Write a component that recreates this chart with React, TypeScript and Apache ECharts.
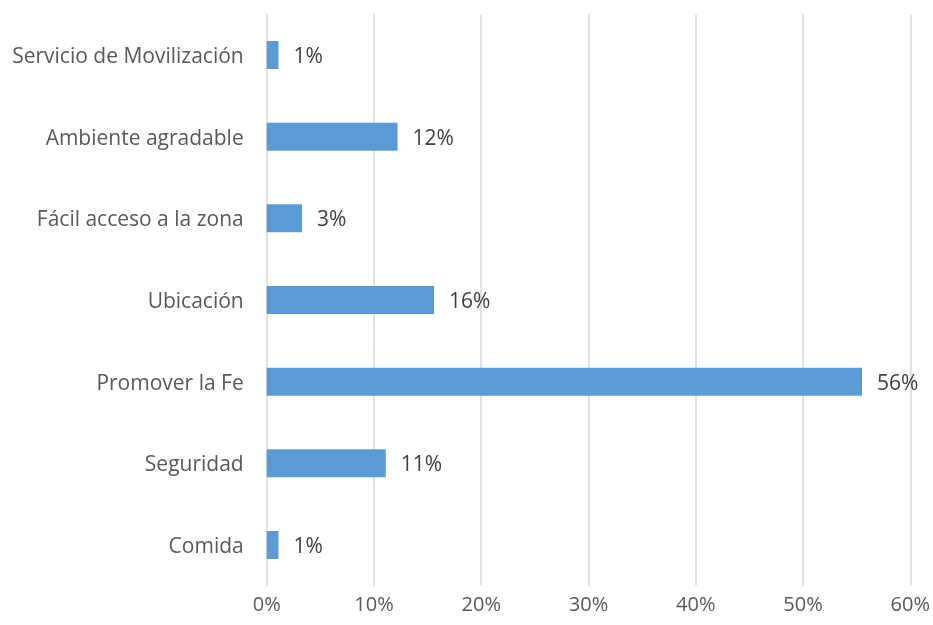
import React, { useEffect, useRef } from "react";
import * as echarts from "echarts";

const categories = [
  "Comida",
  "Seguridad",
  "Promover la Fe",
  "Ubicación",
  "Fácil acceso a la zona",
  "Ambiente agradable",
  "Servicio de Movilización",
];
const values = [1.1, 11.1, 55.5, 15.6, 3.3, 12.2, 1.1];
const xTicks = [0, 10, 20, 30, 40, 50, 60];

const FONT = "Open Sans";
const FS = 21;

export default function App() {
  const ref = useRef<HTMLDivElement>(null);
  useEffect(() => {
    if (!ref.current) return;
    const chart = echarts.init(ref.current, undefined, { renderer: "svg" });
    chart.setOption({
      animation: false,
      grid: { left: 266.7, right: 22.5, top: 14.2, bottom: 39.2, containLabel: false },
      xAxis: {
        type: "value",
        min: xTicks[0],
        max: xTicks[xTicks.length - 1],
        interval: 10,
        axisLine: { show: false },
        axisTick: { show: false },
        axisLabel: {
          formatter: (v: number) => `${v}%`,
          color: "#595959",
          fontSize: 20,
          fontFamily: FONT,
          margin: 8,
        },
        splitLine: { show: true, lineStyle: { color: "#d9d9d9", width: 1.5 } },
      },
      yAxis: {
        type: "category",
        data: categories,
        axisLine: { show: false },
        axisTick: { show: false },
        axisLabel: {
          color: "#595959",
          fontSize: FS,
          fontFamily: FONT,
          margin: 23,
        },
      },
      series: [
        {
          type: "bar",
          data: values,
          barWidth: 28,
          itemStyle: { color: "#5b9bd5" },
          label: {
            show: true,
            position: "right",
            distance: 15,
            formatter: (p: any) => `${Math.round(p.value)}%`,
            color: "#404040",
            fontSize: FS,
            fontFamily: FONT,
          },
        },
      ],
    });
    return () => chart.dispose();
  }, []);
  return (
    <div
      ref={ref}
      style={{ position: "fixed", left: 0, top: 0, width: 933, height: 625 }}
    />
  );
}
